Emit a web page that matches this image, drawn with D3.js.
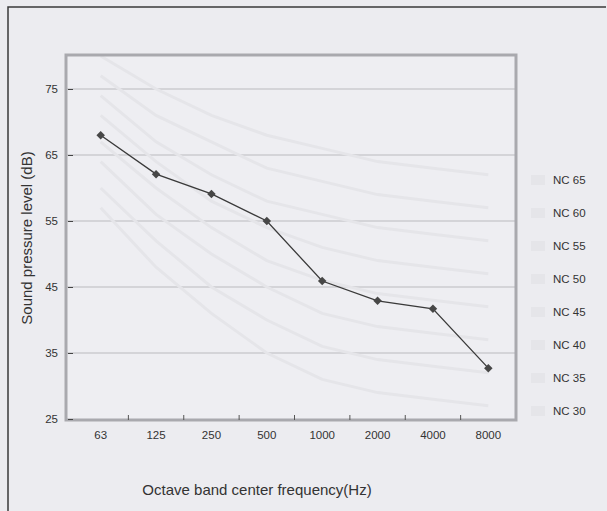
<!DOCTYPE html>
<html><head><meta charset="utf-8">
<script src="https://cdn.jsdelivr.net/npm/d3@7"></script>
<style>body{margin:0;background:#ececf0;}svg{display:block;}</style>
</head><body>
<script>
const freqs = ["63","125","250","500","1000","2000","4000","8000"];
const measured = [68, 62.1, 59.1, 55, 45.9, 42.9, 41.7, 32.7];
const ncLabels = ["NC 65","NC 60","NC 55","NC 50","NC 45","NC 40","NC 35","NC 30"];
const nc65 = [80, 75, 71, 68, 66, 64, 63, 62];
const nc60 = [77, 71, 67, 63, 61, 59, 58, 57];
const nc55 = [74, 67, 62, 58, 56, 54, 53, 52];
const nc50 = [71, 64, 58, 54, 51, 49, 48, 47];
const nc45 = [67, 60, 54, 49, 46, 44, 43, 42];
const nc40 = [64, 56, 50, 45, 41, 39, 38, 37];
const nc35 = [60, 52, 45, 40, 36, 34, 33, 32];
const nc30 = [57, 48, 41, 35, 31, 29, 28, 27];
const yTicks = [25, 35, 45, 55, 65, 75];
const ncSeries = [nc65, nc60, nc55, nc50, nc45, nc40, nc35, nc30];

const W = 607, H = 511;
const svg = d3.select("body").append("svg").attr("width", W).attr("height", H);
svg.append("rect").attr("width", W).attr("height", H).attr("fill", "#ececf0");
// outer frame
svg.append("path").attr("d", "M8,520 L8,7 L606,7").attr("fill", "none").attr("stroke", "#3a3a3a").attr("stroke-width", 1.5);

const L = 66, R = 516, T = 55, B = 420;
const x = d3.scaleBand().domain(freqs).range([73, 516]);
const y = d3.scaleLinear().domain([25, 80]).range([419, 56]);
const font = "Liberation Sans, Arial, sans-serif";

svg.append("rect").attr("x", L).attr("y", T).attr("width", R - L).attr("height", B - T).attr("fill", "#eeeef2");

// gridlines
svg.append("g").selectAll("line").data(yTicks.slice(1)).join("line")
  .attr("x1", L).attr("x2", R).attr("y1", d => y(d)).attr("y2", d => y(d))
  .attr("stroke", "#d4d4d8").attr("stroke-width", 2);

// NC curves (very faint)
const line = d3.line().x((d, i) => x(freqs[i]) + x.bandwidth() / 2).y(d => y(d));
svg.append("g").selectAll("path").data(ncSeries).join("path")
  .attr("d", line)
  .attr("fill", "none").attr("stroke", "#e5e5e9").attr("stroke-width", 3);

// plot frame
svg.append("rect").attr("x", L).attr("y", T).attr("width", R - L).attr("height", B - T)
  .attr("fill", "none").attr("stroke", "#a9a9ae").attr("stroke-width", 3);

// y axis
const yAxis = d3.axisLeft(y).tickValues(yTicks).tickSize(5).tickPadding(6);
const gy = svg.append("g").attr("transform", `translate(${L + 2},0)`).call(yAxis);
gy.select(".domain").remove();
gy.selectAll(".tick line").attr("stroke", "#444").attr("x2", 5).attr("x1", 0);
gy.selectAll(".tick text").attr("fill", "#333").attr("font-size", 11.5).attr("font-family", font).attr("x", -10);

// x axis
const xAxis = d3.axisBottom(x).tickSize(0).tickPadding(11);
const gx = svg.append("g").attr("transform", `translate(0,${B})`).call(xAxis);
gx.select(".domain").remove();
gx.selectAll(".tick text").attr("fill", "#333").attr("font-size", 11.5).attr("font-family", font);
// x tick marks at band boundaries
svg.append("g").selectAll("line").data(freqs.slice(1)).join("line")
  .attr("x1", d => x(d)).attr("x2", d => x(d)).attr("y1", B - 5).attr("y2", B)
  .attr("stroke", "#555").attr("stroke-width", 1);

// measured line
svg.append("path").datum(measured).attr("d", line).attr("fill", "none").attr("stroke", "#3a3a3a").attr("stroke-width", 1.3);
svg.append("g").selectAll("path").data(measured).join("path")
  .attr("transform", (d, i) => `translate(${x(freqs[i]) + x.bandwidth() / 2},${y(d)}) rotate(45)`)
  .attr("d", d3.symbol(d3.symbolSquare, 36))
  .attr("fill", "#474747");

// legend
const lg = svg.append("g");
ncLabels.forEach((t, i) => {
  const yy = 180 + i * 33;
  lg.append("rect").attr("x", 531).attr("y", yy - 5).attr("width", 14).attr("height", 10).attr("fill", "#e5e5e9");
  lg.append("text").attr("x", 553).attr("y", yy).attr("dy", "0.35em").text(t)
    .attr("font-size", 11.5).attr("fill", "#333").attr("font-family", font);
});

// axis titles
svg.append("text").attr("transform", "translate(32,238) rotate(-90)").attr("text-anchor", "middle")
  .attr("font-size", 15).attr("fill", "#333").attr("font-family", font)
  .text("Sound pressure level (dB)");
svg.append("text").attr("x", 257).attr("y", 495).attr("text-anchor", "middle")
  .attr("font-size", 15).attr("fill", "#333").attr("font-family", font)
  .text("Octave band center frequency(Hz)");
</script>
</body></html>
